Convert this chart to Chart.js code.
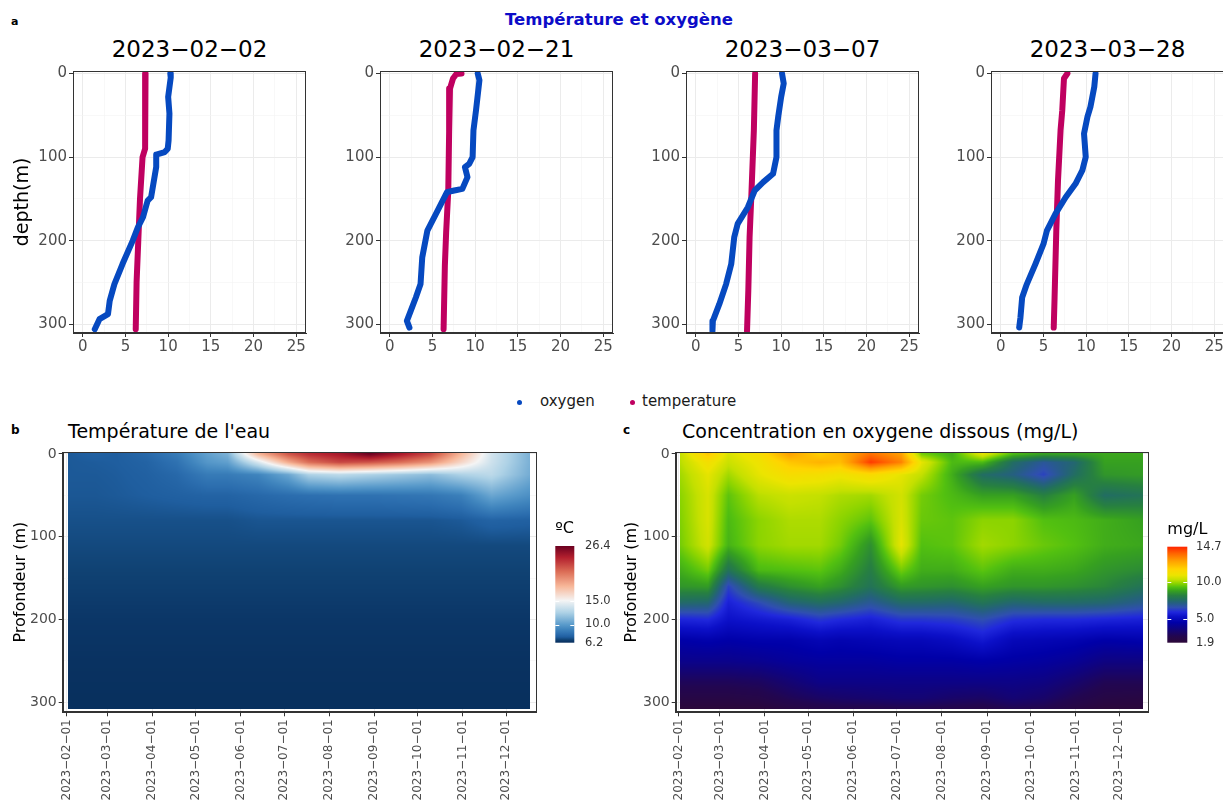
<!DOCTYPE html>
<html lang="fr">
<head>
<meta charset="UTF-8">
<meta name="viewport" content="width=device-width, initial-scale=1.0">
<title>Température et oxygène</title>
<script src="https://cdn.jsdelivr.net/npm/chart.js"></script>
<style>
  html, body { margin: 0; padding: 0; background: #fff; }
  body { position: relative; width: 1223px; height: 800px; overflow: hidden;
         font-family: "DejaVu Sans", sans-serif; }
  canvas, .txt { position: absolute; }
  .txt { white-space: nowrap; line-height: 1; color: #000; }
  .tag { font-weight: bold; font-size: 12px; }
  .ptitle { width: 233px; text-align: center; font-size: 23px; top: 38px; }
  .htitle { font-size: 19px; top: 422px; }
  .dot { width: 5px; height: 5px; border-radius: 50%; top: 400px; }
  .leg { font-size: 15px; top: 394px; color: #1a1a1a; }
</style>
</head>
<body>
<div class="txt tag" style="left:11px; top:16px; font-size:11px;">a</div>
<div class="txt" style="left:419px; width:400px; text-align:center; top:12px; font-size:16.5px; font-weight:bold; color:#0c0cc8;">Température et oxygène</div>

<div class="txt dot" style="left:517px; background:#0649c0;"></div>
<div class="txt leg" style="left:540px;">oxygen</div>
<div class="txt dot" style="left:630px; background:#bf0060;"></div>
<div class="txt leg" style="left:642px;">temperature</div>

<div class="txt tag" style="left:11px; top:424px;">b</div>
<div class="txt htitle" style="left:68px;">Température de l'eau</div>
<div class="txt tag" style="left:623px; top:424px;">c</div>
<div class="txt htitle" style="left:682px;">Concentration en oxygene dissous (mg/L)</div>

<script>
// ---- profils verticaux (valeur, profondeur en m) ----
const profileDates = ['2023-02-02', '2023-02-21', '2023-03-07', '2023-03-28'];

const oxygen0202 = [[10.25,0],[10.3,5],[10.0,28],[10.15,48],[10.05,80],[9.95,90],[9.6,94],[8.6,97],[8.6,112],
  [8.0,148],[7.6,152],[7.05,172],[6.45,184],[5.85,200],[4.65,228],[3.7,252],[3.15,272],[2.95,288],[1.95,294],[1.4,306]];
const temp0202 = [[7.35,0],[7.3,50],[7.3,90],[7.0,100],[6.7,150],[6.5,200],[6.3,250],[6.2,306]];

const oxygen0221 = [[10.3,0],[10.5,8],[10.1,44],[9.8,68],[9.7,100],[9.3,108],[8.8,112],[9.1,124],[8.5,138],
  [7.55,140],[6.7,142],[5.6,164],[4.4,188],[3.8,220],[3.6,252],[3.05,268],[2.45,284],[2.0,296],[2.3,304]];
const temp0221 = [[8.4,0],[7.8,0.5],[7.4,6],[7.05,18],[6.95,70],[6.85,140],[6.6,190],[6.45,230],[6.3,306]];

const oxygen0307 = [[10.1,0],[10.3,12],[10.0,28],[9.65,52],[9.45,68],[9.45,100],[9.05,120],[7.9,130],[6.9,140],
  [6.1,160],[4.9,180],[4.5,196],[4.15,228],[3.55,252],[2.75,276],[2.0,296],[1.95,308]];
const temp0307 = [[6.95,0],[6.8,68],[6.5,148],[6.3,196],[6.15,260],[6.0,308]];

const oxygen0328 = [[11.1,0],[10.95,16],[10.5,40],[10.15,52],[9.75,72],[9.95,100],[9.55,116],[8.75,132],[7.6,148],
  [6.4,168],[5.4,188],[5.0,204],[4.05,228],[3.05,252],[2.5,268],[2.3,292],[2.15,304]];
const temp0328 = [[7.8,0],[7.4,6],[7.2,44],[7.0,68],[6.7,128],[6.5,188],[6.3,268],[6.2,304]];

const profileOxygen = [oxygen0202, oxygen0221, oxygen0307, oxygen0328];
const profileTemp = [temp0202, temp0221, temp0307, temp0328];

// ---- grilles des sections (une liste par date, valeurs aux profondeurs heatDepths) ----
const heatDates = ['2023-02-02','2023-02-21','2023-03-07','2023-03-28','2023-04-18','2023-05-09','2023-05-23',
  '2023-06-13','2023-07-04','2023-07-18','2023-08-08','2023-08-29','2023-09-19','2023-10-10','2023-10-31',
  '2023-11-21','2023-12-17'];
const heatDepths = [0, 10, 25, 50, 80, 110, 140, 160, 180, 200, 225, 250, 275, 295, 308];

const tempByDate = [
  [7.3,7.3,7.3,7.25,7.1,6.95,6.8,6.7,6.6,6.5,6.4,6.3,6.25,6.2,6.2],
  [7.5,7.35,7.3,7.25,7.1,6.95,6.8,6.7,6.6,6.5,6.4,6.3,6.25,6.2,6.2],
  [7.4,7.4,7.35,7.3,7.1,6.95,6.8,6.7,6.6,6.5,6.4,6.3,6.25,6.2,6.2],
  [7.8,7.6,7.5,7.4,7.1,6.95,6.8,6.7,6.6,6.5,6.4,6.3,6.25,6.2,6.2],
  [8.6,8.2,7.8,7.5,7.1,6.95,6.8,6.7,6.6,6.5,6.4,6.3,6.25,6.2,6.2],
  [10.2,9.8,8.6,7.6,7.1,6.95,6.8,6.7,6.6,6.5,6.4,6.3,6.25,6.2,6.2],
  [11.0,10.2,8.6,7.6,7.1,6.95,6.8,6.7,6.6,6.5,6.4,6.3,6.25,6.2,6.2],
  [18.0,14.0,9.0,7.8,7.2,6.95,6.8,6.7,6.6,6.5,6.4,6.3,6.25,6.2,6.2],
  [22.0,18.5,10.5,8.0,7.2,6.95,6.8,6.7,6.6,6.5,6.4,6.3,6.25,6.2,6.2],
  [23.5,21.0,12.5,8.1,7.2,6.95,6.8,6.7,6.6,6.5,6.4,6.3,6.25,6.2,6.2],
  [24.5,22.5,13.0,8.2,7.2,6.95,6.8,6.7,6.6,6.5,6.4,6.3,6.25,6.2,6.2],
  [26.4,22.0,12.5,8.2,7.2,6.95,6.8,6.7,6.6,6.5,6.4,6.3,6.25,6.2,6.2],
  [24.5,21.0,12.0,8.3,7.2,6.95,6.8,6.7,6.6,6.5,6.4,6.3,6.25,6.2,6.2],
  [22.5,19.5,11.5,8.4,7.2,6.95,6.8,6.7,6.6,6.5,6.4,6.3,6.25,6.2,6.2],
  [18.0,16.5,12.5,8.8,7.3,6.95,6.8,6.7,6.6,6.5,6.4,6.3,6.25,6.2,6.2],
  [13.8,13.6,13.0,10.5,7.6,6.95,6.8,6.7,6.6,6.5,6.4,6.3,6.25,6.2,6.2],
  [11.0,11.0,10.8,9.5,7.5,6.95,6.8,6.7,6.6,6.5,6.4,6.3,6.25,6.2,6.2]
];

const oxyByDate = [
  [10.3,10.2,10.0,9.8,9.7,9.6,9.0,8.6,7.5,5.9,4.6,4.0,3.0,2.4,2.0],
  [12.0,11.2,10.8,10.6,10.6,10.5,9.6,8.7,7.4,6.0,4.7,4.0,3.0,2.4,2.0],
  [10.6,10.4,10.0,9.4,9.2,9.1,7.8,6.4,5.8,5.4,4.6,4.0,3.0,2.4,2.0],
  [11.3,11.0,10.8,10.2,9.8,9.8,9.2,8.0,6.5,5.6,4.7,4.1,3.1,2.5,2.0],
  [12.8,12.0,11.3,10.4,10.1,10.0,9.3,8.5,7.3,5.8,4.7,4.3,3.5,2.9,2.3],
  [11.8,12.4,11.2,10.3,10.1,10.0,9.4,8.8,7.6,6.2,4.9,4.4,3.9,3.2,2.5],
  [12.4,12.2,11.0,10.1,9.8,9.6,9.0,8.5,7.4,6.0,4.8,4.4,3.9,3.3,2.6],
  [13.6,14.4,11.4,10.0,9.4,8.5,8.1,7.8,6.9,5.8,4.9,4.4,3.9,3.4,2.6],
  [12.8,13.3,10.8,10.5,10.6,10.8,9.6,8.7,7.5,6.2,5.0,4.5,3.9,3.5,2.7],
  [9.6,10.8,10.3,9.6,9.5,9.3,9.0,8.6,7.5,6.2,5.0,4.5,3.9,3.5,2.7],
  [9.0,9.2,9.0,9.2,9.4,9.4,9.0,8.5,7.4,6.3,5.2,4.5,3.9,3.3,2.6],
  [10.8,9.2,7.6,8.8,9.8,10.0,9.4,8.8,7.8,6.6,5.6,4.6,3.9,3.2,2.5],
  [9.2,7.6,7.2,8.8,9.8,9.8,9.0,8.6,7.4,6.1,5.0,4.5,3.9,3.5,2.8],
  [8.8,6.9,6.4,8.2,9.3,9.5,9.0,8.6,7.5,6.0,4.9,4.4,3.8,3.3,2.7],
  [8.8,7.4,7.6,8.8,9.2,9.3,8.9,8.5,7.5,6.0,4.8,4.2,3.4,2.8,2.3],
  [8.9,8.8,8.6,7.6,9.0,9.0,8.6,8.3,7.4,5.9,4.6,3.8,2.9,2.4,2.0],
  [8.9,8.8,8.7,7.8,8.8,8.9,8.4,7.8,7.0,5.8,4.7,3.8,2.9,2.3,2.0]
];

const monthTicks = ['2023-02-01','2023-03-01','2023-04-01','2023-05-01','2023-06-01','2023-07-01',
  '2023-08-01','2023-09-01','2023-10-01','2023-11-01','2023-12-01'];
const tempBreaks = [6.2, 10.0, 15.0, 26.4];
const oxyBreaks = [1.9, 5.0, 10.0, 14.7];

// ---- styles ----
const OXY_COLOR = '#0649c0';
const TEMP_COLOR = '#bf0060';
const TICK_GREY = '#4d4d4d';

const tempPalette = [[6.2,'#08305e'],[6.5,'#0b3667'],[6.8,'#104273'],[7.1,'#175089'],[7.4,'#1f5e9f'],
  [8.0,'#2b6dae'],[9.0,'#3f84bd'],[10,'#5a9bcb'],[12.5,'#aed2e6'],[15,'#f4f4f4'],[18,'#f7b799'],
  [21,'#dc6e57'],[24,'#b3202e'],[26.4,'#6b0020']];
const oxyPalette = [[1.9,'#2c0838'],[2.8,'#220650'],[3.8,'#0e0382'],[4.6,'#0000a8'],[5.4,'#0c10c8'],
  [6.0,'#2028dc'],[6.6,'#2f4fb0'],[7.2,'#255f80'],[7.7,'#22705c'],[8.2,'#278040'],[8.8,'#36a020'],
  [9.3,'#52c010'],[9.8,'#8cd400'],[10.3,'#c4e000'],[10.9,'#ece400'],[11.7,'#ffd400'],[12.8,'#ffa000'],
  [13.8,'#ff6400'],[14.7,'#ff2400']];

Chart.defaults.font.family = "'DejaVu Sans', sans-serif";
Chart.defaults.color = TICK_GREY;
Chart.defaults.animation = false;

function dayOf(s) {
  const [y, m, d] = s.split('-').map(Number);
  return (Date.UTC(y, m - 1, d) - Date.UTC(2023, 1, 1)) / 86400000;
}
const dash = s => s.replace(/-/g, '\u2212');

function addCanvas(left, top, w, h) {
  const cv = document.createElement('canvas');
  cv.width = w; cv.height = h;
  cv.style.left = left + 'px'; cv.style.top = top + 'px';
  cv.style.width = w + 'px'; cv.style.height = h + 'px';
  document.body.appendChild(cv);
  return cv;
}

function gridOpts(isMajor) {
  return {
    color: c => isMajor(c.tick.value) ? '#ebebeb' : '#f4f4f4',
    lineWidth: c => isMajor(c.tick.value) ? 1 : 0.6,
    tickColor: c => isMajor(c.tick.value) ? '#333333' : 'rgba(0,0,0,0)',
    tickLength: 4
  };
}

const framePlugin = {
  id: 'frame',
  afterDraw(chart) {
    const { ctx, chartArea: a } = chart;
    ctx.save();
    ctx.strokeStyle = '#333333';
    ctx.lineWidth = 1;
    ctx.strokeRect(Math.round(a.left) + 0.5, Math.round(a.top) + 0.5,
      Math.round(a.right - a.left) - 1, Math.round(a.bottom - a.top) - 1);
    ctx.restore();
  }
};

// ---- panneaux du haut ----
const panelLefts = [73, 380, 686, 991];
const depthMajor = v => v % 100 === 0;
const xMajor = v => v % 5 === 0;

profileDates.forEach((date, i) => {
  const t = document.createElement('div');
  t.className = 'txt ptitle';
  t.style.left = panelLefts[i] + 'px';
  t.textContent = dash(date);
  document.body.appendChild(t);

  const cv = addCanvas(panelLefts[i] - 73, 30, 310, 331);
  new Chart(cv, {
    type: 'scatter',
    data: {
      datasets: [
        { label: 'oxygen', data: profileOxygen[i].map(p => ({ x: p[0], y: p[1] })), showLine: true,
          borderColor: OXY_COLOR, backgroundColor: OXY_COLOR, borderWidth: 6, pointRadius: 0,
          borderCapStyle: 'round', borderJoinStyle: 'round' },
        { label: 'temperature', data: profileTemp[i].map(p => ({ x: p[0], y: p[1] })), showLine: true,
          borderColor: TEMP_COLOR, backgroundColor: TEMP_COLOR, borderWidth: 6, pointRadius: 0,
          borderCapStyle: 'round', borderJoinStyle: 'round' }
      ]
    },
    options: {
      responsive: false,
      devicePixelRatio: 1,
      layout: { padding: { top: 41, right: 4, left: 0, bottom: 0 } },
      plugins: { legend: { display: false }, tooltip: { enabled: false } },
      scales: {
        x: {
          type: 'linear', min: -1.15, max: 26.15,
          afterBuildTicks: s => { s.ticks = [0,2.5,5,7.5,10,12.5,15,17.5,20,22.5,25].map(v => ({ value: v })); },
          afterFit: s => { s.height = 28; },
          grid: gridOpts(xMajor),
          border: { display: true, color: '#333333' },
          ticks: { font: { size: 15 }, color: TICK_GREY, padding: 1, maxRotation: 0, autoSkip: false,
                   callback: v => xMajor(v) ? String(v) : '' }
        },
        y: {
          type: 'linear', reverse: true, min: -3, max: 310.5,
          afterBuildTicks: s => { s.ticks = [0,50,100,150,200,250,300].map(v => ({ value: v })); },
          afterFit: s => { s.width = 73; },
          grid: gridOpts(depthMajor),
          border: { display: true, color: '#333333' },
          ticks: { font: { size: 15 }, color: TICK_GREY, padding: 2, autoSkip: false,
                   callback: v => depthMajor(v) ? String(v) : '' },
          title: { display: i === 0, text: 'depth(m)', font: { size: 19 }, color: '#000',
                   padding: { top: 12, bottom: 0 } }
        }
      }
    },
    plugins: [framePlugin]
  });
});

// ---- sections (heatmaps) ----
function hexRgb(h) { return [1, 3, 5].map(k => parseInt(h.substr(k, 2), 16)); }
function colorScale(pal) {
  const stops = pal.map(([v, c]) => [v, hexRgb(c)]);
  return v => {
    if (v <= stops[0][0]) return stops[0][1];
    for (let k = 1; k < stops.length; k++) {
      if (v <= stops[k][0]) {
        const t = (v - stops[k - 1][0]) / (stops[k][0] - stops[k - 1][0]);
        const a = stops[k - 1][1], b = stops[k][1];
        return [a[0] + (b[0] - a[0]) * t, a[1] + (b[1] - a[1]) * t, a[2] + (b[2] - a[2]) * t];
      }
    }
    return stops[stops.length - 1][1];
  };
}
function locate(arr, v) {
  let k = 0;
  while (k < arr.length - 2 && v > arr[k + 1]) k++;
  const f = Math.min(1, Math.max(0, (v - arr[k]) / (arr[k + 1] - arr[k])));
  return [k, f];
}

function makeHeat(cfg) {
  const days = heatDates.map(dayOf);
  const col = colorScale(cfg.palette);
  const lo = cfg.palette[0][0], hi = cfg.palette[cfg.palette.length - 1][0];

  const raster = {
    id: 'raster',
    beforeDatasetsDraw(chart) {
      const xs = chart.scales.x, ys = chart.scales.y, ctx = chart.ctx;
      const x0 = Math.floor(xs.getPixelForValue(days[0]));
      const x1 = Math.ceil(xs.getPixelForValue(days[days.length - 1]));
      const y0 = Math.floor(ys.getPixelForValue(heatDepths[0]));
      const y1 = Math.ceil(ys.getPixelForValue(heatDepths[heatDepths.length - 1]));
      const w = x1 - x0, h = y1 - y0;
      const img = ctx.createImageData(w, h);
      const cols = [], rows = [];
      for (let i = 0; i < w; i++) cols.push(locate(days, xs.getValueForPixel(x0 + i + 0.5)));
      for (let j = 0; j < h; j++) rows.push(locate(heatDepths, ys.getValueForPixel(y0 + j + 0.5)));
      const g = cfg.values;
      for (let j = 0; j < h; j++) {
        const [r, fr] = rows[j];
        for (let i = 0; i < w; i++) {
          const [c, fc] = cols[i];
          const top = g[c][r] * (1 - fc) + g[c + 1][r] * fc;
          const bot = g[c][r + 1] * (1 - fc) + g[c + 1][r + 1] * fc;
          const rgb = col(top * (1 - fr) + bot * fr);
          const k = (j * w + i) * 4;
          img.data[k] = rgb[0]; img.data[k + 1] = rgb[1]; img.data[k + 2] = rgb[2]; img.data[k + 3] = 255;
        }
      }
      ctx.putImageData(img, x0, y0);
    }
  };

  const colorbar = {
    id: 'colorbar',
    afterDraw(chart) {
      const ctx = chart.ctx, b = cfg.bar;
      ctx.save();
      const grad = ctx.createLinearGradient(0, b.y, 0, b.y + b.h);
      cfg.palette.forEach(([v, c]) => grad.addColorStop((hi - v) / (hi - lo), c));
      ctx.fillStyle = grad;
      ctx.fillRect(b.x, b.y, b.w, b.h);
      ctx.font = "11.5px 'DejaVu Sans', sans-serif";
      ctx.textBaseline = 'middle';
      ctx.textAlign = 'left';
      cfg.breaks.forEach((v, k) => {
        const y = b.y + (hi - v) / (hi - lo) * b.h;
        if (k > 0 && k < cfg.breaks.length - 1) {
          ctx.strokeStyle = '#ffffff';
          ctx.lineWidth = 1;
          ctx.beginPath();
          ctx.moveTo(b.x, Math.round(y) + 0.5); ctx.lineTo(b.x + 4, Math.round(y) + 0.5);
          ctx.moveTo(b.x + b.w - 4, Math.round(y) + 0.5); ctx.lineTo(b.x + b.w, Math.round(y) + 0.5);
          ctx.stroke();
        }
        ctx.fillStyle = '#333333';
        ctx.fillText(v.toFixed(1), b.labelX, y);
      });
      ctx.fillStyle = '#000';
      ctx.font = "16px 'DejaVu Sans', sans-serif";
      ctx.fillText(cfg.unit, b.x, b.titleY);
      ctx.restore();
    }
  };

  const cv = addCanvas(cfg.left, 415, cfg.width, 385);
  const nodes = [];
  days.forEach(d => heatDepths.forEach(z => nodes.push({ x: d, y: z })));
  new Chart(cv, {
    type: 'scatter',
    data: { datasets: [{ label: cfg.label, data: nodes, pointRadius: 0, pointHoverRadius: 0 }] },
    options: {
      responsive: false,
      devicePixelRatio: 1,
      layout: { padding: { top: 37, right: cfg.padRight, left: 0, bottom: 0 } },
      plugins: { legend: { display: false }, tooltip: { enabled: false } },
      scales: {
        x: {
          type: 'linear', min: cfg.xmin, max: cfg.xmax,
          afterBuildTicks: s => { s.ticks = monthTicks.map(m => ({ value: dayOf(m) })); },
          afterFit: s => { s.height = 87.7; },
          grid: gridOpts(() => true),
          border: { display: true, color: '#333333' },
          ticks: { font: { size: 12 }, color: TICK_GREY, padding: 3, minRotation: 90, maxRotation: 90,
                   autoSkip: false, callback: (v, k) => dash(monthTicks[k]) }
        },
        y: {
          type: 'linear', reverse: true, min: -2.4, max: 312,
          afterBuildTicks: s => { s.ticks = [0,50,100,150,200,250,300].map(v => ({ value: v })); },
          afterFit: s => { s.width = cfg.axisWidth; },
          grid: gridOpts(depthMajor),
          border: { display: true, color: '#333333' },
          ticks: { font: { size: 14 }, color: TICK_GREY, padding: 2, autoSkip: false,
                   callback: v => depthMajor(v) ? String(v) : '' },
          title: { display: true, text: 'Profondeur (m)', font: { size: 16 }, color: '#000',
                   padding: { top: cfg.titlePad, bottom: 0 } }
        }
      }
    },
    plugins: [raster, colorbar, framePlugin]
  });
}

makeHeat({
  label: 'température', values: tempByDate, palette: tempPalette, breaks: tempBreaks, unit: 'ºC',
  left: 0, width: 620, padRight: 83.3, axisWidth: 62.7, titlePad: 11, xmin: -2.76, xmax: 324.1,
  bar: { x: 555.3, y: 131, w: 19, h: 96.7, labelX: 585, titleY: 114 }
});
makeHeat({
  label: 'oxygène', values: oxyByDate, palette: oxyPalette, breaks: oxyBreaks, unit: 'mg/L',
  left: 615, width: 608, padRight: 74.7, axisWidth: 60.7, titlePad: 7, xmin: -2.27, xmax: 323.0,
  bar: { x: 552.3, y: 131.7, w: 20, h: 96, labelX: 581, titleY: 115 }
});
</script>
</body>
</html>
